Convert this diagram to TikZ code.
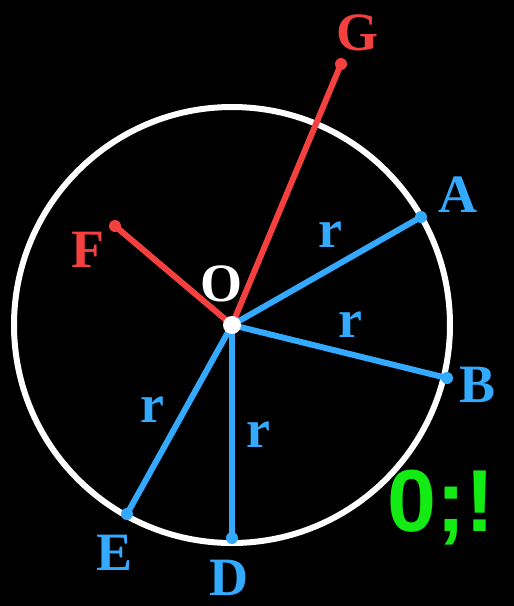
\documentclass[tikz,border=0pt]{standalone}
\usepackage{fontspec}
\setmainfont{Liberation Serif}
\setsansfont{Liberation Sans}
\usetikzlibrary{positioning, calc}
\definecolor{radial}{RGB}{51, 170, 255}
\definecolor{outer}{RGB}{245, 64, 64}
\definecolor{scribble}{RGB}{20, 235, 20}
\tikzset{
  rim/.style={draw=white, line width=6pt},
  spoke/.style={radial, line width=6pt},
  stray/.style={outer, line width=6pt},
  tipdot/.style={circle, inner sep=0pt, minimum size=12pt},
  ptlabel/.style={font=\fontsize{54}{60}\selectfont\bfseries},
  rlabel/.style={radial, font=\fontsize{54}{60}\selectfont\bfseries},
}
\begin{document}
\begin{tikzpicture}[x=1pt, y=-1pt]

  % ============ BACKGROUND ============
  \fill[black] (0,0) rectangle (514,606);
  \useasboundingbox (0,0) rectangle (514,606);

  % ============ POINTS ============
  \coordinate (O) at (232,325);
  \coordinate (A) at (421,217);
  \coordinate (B) at (447,378);
  \coordinate (D) at (232,538);
  \coordinate (E) at (127,514);
  \coordinate (F) at (115,226);
  \coordinate (G) at (341,64);

  % Circle
  \draw[rim] (O) circle (218);

  % Radii (blue)
  \foreach \p in {A, B, D, E} {
    \draw[spoke] (O) -- (\p);
    \node[tipdot, fill=radial] at (\p) {};
  }
  % Segments to outside points (red)
  \foreach \p in {F, G} {
    \draw[stray] (O) -- (\p);
    \node[tipdot, fill=outer] at (\p) {};
  }

  % Centre dot
  \node[circle, fill=white, inner sep=0pt, minimum size=18pt] (centre) at (O) {};

  % ============ LABELS ============
  \node[ptlabel, white]  (lO) at (222,284) {O};
  \node[ptlabel, outer]  (lG) at (357,33)  {G};
  \node[ptlabel, outer]  (lF) at (88,250)  {F};
  \node[ptlabel, radial] (lA) at (458,195) {A};
  \node[ptlabel, radial] (lB) at (478,385) {B};
  \node[ptlabel, radial] (lD) at (229,578) {D};
  \node[ptlabel, radial] (lE) at (115,553) {E};

  \node[rlabel] (rA) at (330,235) {r};
  \node[rlabel] (rB) at (350,325) {r};
  \node[rlabel] (rE) at (152,410) {r};
  \node[rlabel] (rD) at (258,435) {r};

  % Handwritten note
  \node[scribble, font=\fontsize{88}{96}\selectfont\sffamily\bfseries, anchor=west]
    (note) at (384,508) {0;!};

\end{tikzpicture}
\end{document}
